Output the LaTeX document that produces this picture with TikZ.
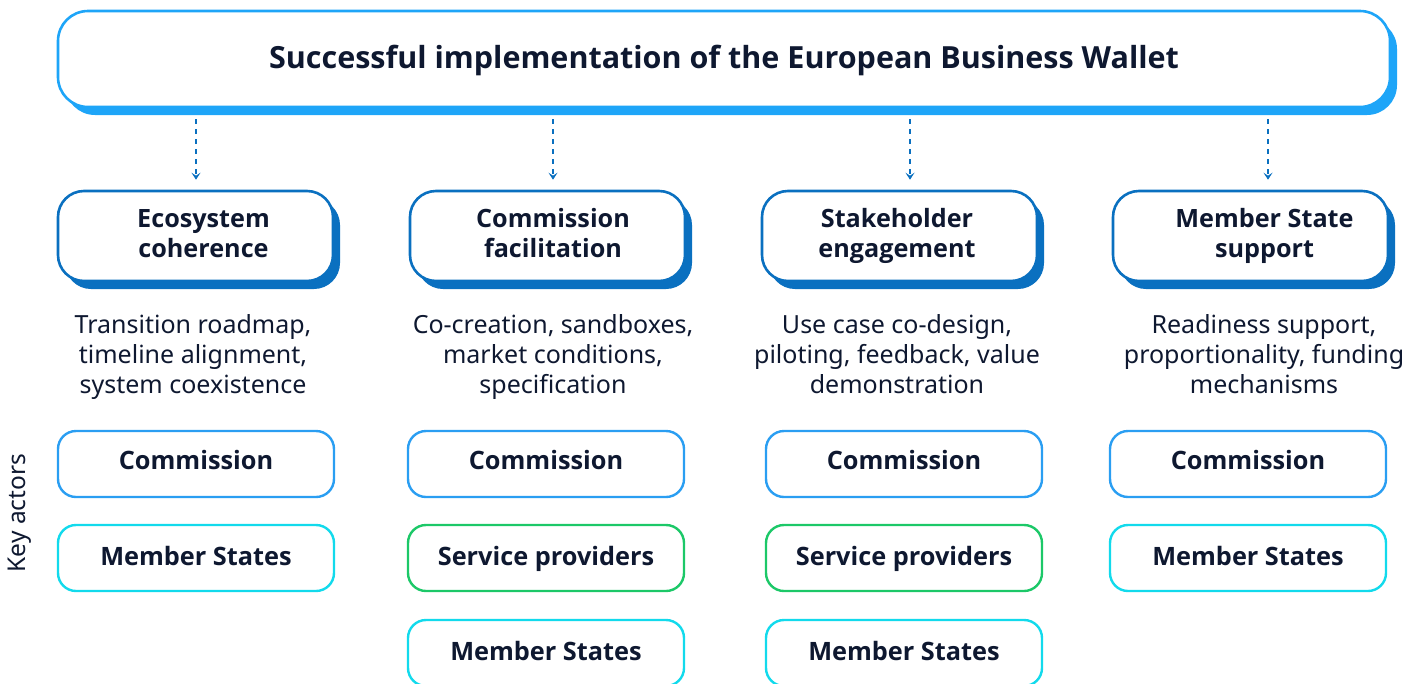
\documentclass[tikz,border=0pt]{standalone}
\usepackage{fontspec}
\setmainfont{Noto Sans}
\newfontfamily\heavy{Open Sans}
\usetikzlibrary{calc,shadows,arrows.meta}
\definecolor{ink}{HTML}{0E1830}
\definecolor{wallet}{HTML}{1EA5F8}
\definecolor{pillar}{HTML}{0A70C0}
\definecolor{commission}{HTML}{2A9EF2}
\definecolor{states}{HTML}{12DAEC}
\definecolor{providers}{HTML}{1CC868}
\newcommand{\dropby}[2]{\raisebox{-#1}{#2}}
\tikzset{
  topbox/.style={draw=wallet, line width=2.6pt, fill=white, rounded corners=30pt,
    minimum width=1332pt, minimum height=96pt, text=ink,
    font=\fontsize{30.5}{36}\selectfont\heavy\bfseries,
    drop shadow={shadow xshift=7pt, shadow yshift=-8pt, fill=wallet, opacity=1}},
  pillarbox/.style={draw=pillar, line width=2.6pt, fill=white, rounded corners=26pt,
    minimum width=275pt, minimum height=90pt, align=center, text=ink,
    font=\fontsize{25.2}{30}\selectfont\heavy\bfseries,
    drop shadow={shadow xshift=7pt, shadow yshift=-8pt, fill=pillar, opacity=1}},
  desc/.style={align=center, text=ink, font=\fontsize{25}{30}\selectfont},
  actor/.style={draw=#1, line width=2.4pt, fill=white, rounded corners=18pt,
    minimum width=276pt, minimum height=66pt, text=ink,
    font=\fontsize{25.3}{28}\selectfont\heavy\bfseries},
  link/.style={draw=pillar, line width=2pt, dash pattern=on 5pt off 5pt,
    -{Stealth[length=7pt,width=9pt,inset=3pt]}},
}
\begin{document}
\begin{tikzpicture}[x=1pt,y=-1pt]
\useasboundingbox (0,0) rectangle (1424,683);
\clip (0,0) rectangle (1424,683);

% goal
\node[topbox] (top) at (724,59) {\strut\dropby{2pt}{Successful implementation of the European Business Wallet}};

% pillars
\node[pillarbox] (p1) at (195.5,236) {\strut\hspace*{16pt}Ecosystem\\\strut\hspace*{16pt}coherence};
\node[pillarbox] (p2) at (547.5,236) {\strut\hspace*{11pt}Commission\\\strut\hspace*{11pt}facilitation};
\node[pillarbox] (p3) at (899.5,236) {\strut\hspace*{-5pt}Stakeholder\\\strut\hspace*{-5pt}engagement};
\node[pillarbox] (p4) at (1250.5,236) {\strut\hspace*{28pt}Member State\\\strut\hspace*{28pt}support};

% arrow columns
\coordinate (c1) at (196,0);
\coordinate (c2) at (553,0);
\coordinate (c3) at (910,0);
\coordinate (c4) at (1268,0);
\foreach \i in {1,...,4}
  \draw[link] ($(top.south -| c\i)+(0,11)$) -- ($(p\i.north -| c\i)+(0,-10)$);

% descriptions
\node[desc] (d1) at (193,357) {\strut Transition roadmap,\\\strut timeline alignment,\\\strut system coexistence};
\node[desc] (d2) at (553,357) {\strut Co-creation, sandboxes,\\\strut market conditions,\\\strut specification};
\node[desc] (d3) at (897,357) {\strut Use case co-design,\\\strut piloting, feedback, value\\\strut demonstration};
\node[desc] (d4) at (1264,357) {\strut Readiness support,\\\strut proportionality, funding\\\strut mechanisms};

% key actors
\node[rotate=90, text=ink, font=\fontsize{24.5}{28}\selectfont] (ka) at (20,513) {Key actors};

\node[actor=commission] (a1c) at (196,464) {\strut Commission};
\node[actor=states]     (a1m) at (196,558) {\strut\dropby{2pt}{Member States}};

\node[actor=commission] (a2c) at (546,464) {\strut Commission};
\node[actor=providers]  (a2s) at (546,558) {\strut\dropby{2pt}{Service providers}};
\node[actor=states]     (a2m) at (546,653) {\strut\dropby{2pt}{Member States}};

\node[actor=commission] (a3c) at (904,464) {\strut Commission};
\node[actor=providers]  (a3s) at (904,558) {\strut\dropby{2pt}{Service providers}};
\node[actor=states]     (a3m) at (904,653) {\strut\dropby{2pt}{Member States}};

\node[actor=commission] (a4c) at (1248,464) {\strut Commission};
\node[actor=states]     (a4m) at (1248,558) {\strut\dropby{2pt}{Member States}};
\end{tikzpicture}
\end{document}
